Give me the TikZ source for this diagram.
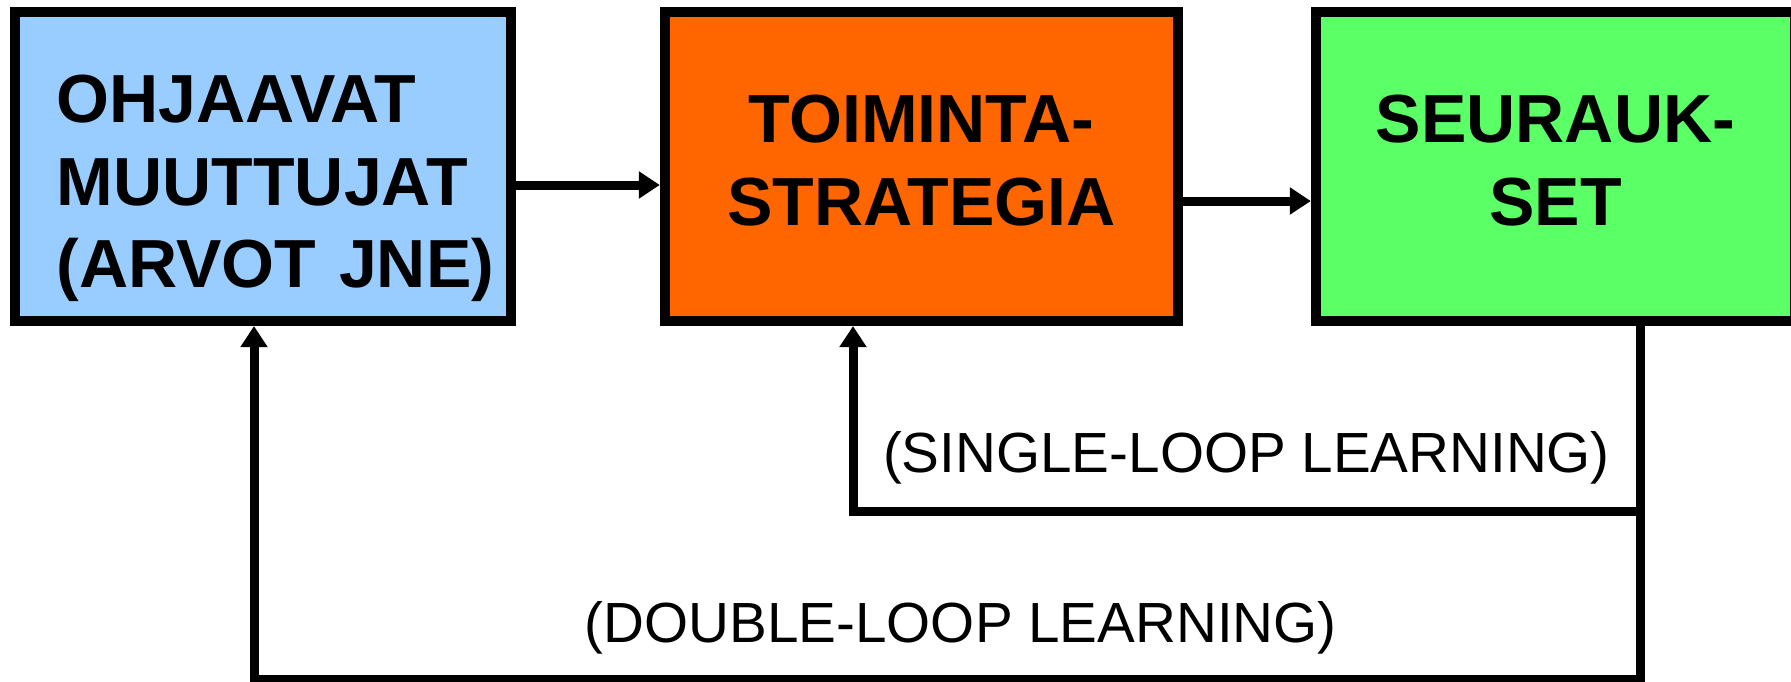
\documentclass[tikz,border=0pt]{standalone}
\usepackage{fontspec}
\setmainfont{Liberation Sans}
\usepackage{tikz}
\usetikzlibrary{arrows.meta,positioning}
\definecolor{ohjblue}{HTML}{99CCFF}
\definecolor{toiorange}{HTML}{FF6600}
\definecolor{seugreen}{HTML}{5BFF66}
\tikzset{
  box/.style={draw, line width=0.1cm, minimum height=3.09cm, align=center,
    font=\fontsize{19.35pt}{23.4pt}\selectfont\bfseries,
    text height=0.49cm, text depth=0.96cm},
  arr/.style={line width=0.09cm, -{Triangle[length=0.21cm,width=0.26cm]}},
  lbl/.style={anchor=base, font=\fontsize{16.1pt}{19pt}\selectfont},
}
\begin{document}
\begin{tikzpicture}[x=0.01cm, y=-0.01cm]
\useasboundingbox (0,0) rectangle (1791,682);
\node[box, fill=ohjblue, minimum width=4.96cm, text width=4.12cm, align=left, text depth=1.36cm] (ohj) at (263,166.5) {OHJAAVAT\\\mbox{MUUTTUJAT}\\\mbox{(ARVOT JNE)}};
\node[box, fill=toiorange, minimum width=5.13cm, text width=4.2cm] (toi) at (921.5,166.5) {TOIMINTA-\\STRATEGIA};
\node[box, fill=seugreen, minimum width=4.79cm, text width=3.8cm] (seu) at (1555.5,166.5) {SEURAUK-\\SET};
\draw[arr] ([yshift=-0.185cm]ohj.east) -- ([yshift=-0.185cm]ohj.east -| toi.west);
\draw[arr] ([yshift=-0.345cm]toi.east) -- ([yshift=-0.345cm]toi.east -| seu.west);
\coordinate (dbr) at (1640,679);
\coordinate (dbl) at (254,679);
\coordinate (sbr) at (1640,511);
\coordinate (sbl) at (853,511);
\draw[arr] (seu.south -| dbr) -- (dbr) -- node[lbl, pos=0.49, yshift=0.36cm] {(DOUBLE-LOOP LEARNING)} (dbl) -- (dbl |- ohj.south);
\draw[arr] (sbr) -- node[lbl, yshift=0.38cm] {(SINGLE-LOOP LEARNING)} (sbl) -- (sbl |- toi.south);
\end{tikzpicture}
\end{document}
